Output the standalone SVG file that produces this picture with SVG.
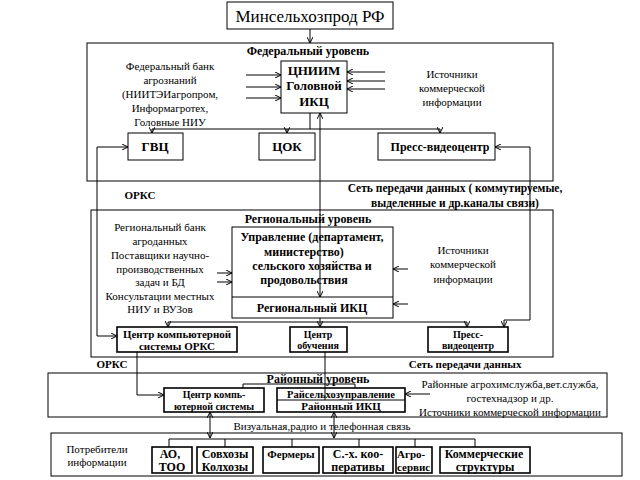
<svg xmlns="http://www.w3.org/2000/svg" width="640" height="480" viewBox="0 0 640 480" font-family="'Liberation Serif', 'DejaVu Serif', 'Times New Roman', serif">
<style>
text{font-family:'Liberation Serif','DejaVu Serif','Times New Roman',serif;fill:#000}
.b{font-weight:bold}
.n{font-size:11px}
.box{fill:#fff;stroke:#000;stroke-width:1}
.box2{fill:#fff;stroke:#000;stroke-width:1.6}
.frame{fill:none;stroke:#000;stroke-width:1}
.c{fill:none;stroke:#000;stroke-width:1}
</style>
<defs>
<marker id="a" viewBox="0 0 6 6" refX="6" refY="3" markerWidth="6" markerHeight="6" markerUnits="userSpaceOnUse" orient="auto-start-reverse">
<path d="M0,0 L6,3 L0,6" fill="none" stroke="#000" stroke-width="1"/>
</marker>
</defs>
<rect width="640" height="480" fill="#fff"/>

<g id="frames">
<rect class="frame" x="87" y="43" width="466" height="138"/>
<rect class="frame" x="91" y="210" width="462" height="147"/>
<rect class="frame" x="48" y="373" width="559" height="44"/>
<rect class="frame" x="51" y="433" width="571" height="43"/>
</g>

<g id="labels">
<text class="b" x="308" y="55" font-size="12" text-anchor="middle">Федеральный уровень</text>
<text class="n" text-anchor="middle"><tspan x="170" y="70">Федеральный банк</tspan><tspan x="170" y="84">агрознаний</tspan><tspan x="170" y="98">(НИИТЭИагропром,</tspan><tspan x="170" y="112">Информагротех,</tspan><tspan x="170" y="126">Головные НИУ</tspan></text>
<text class="n" text-anchor="middle"><tspan x="452" y="78">Источники</tspan><tspan x="452" y="92">коммерческой</tspan><tspan x="452" y="106">информации</tspan></text>
<text class="b" x="140" y="199" font-size="11" text-anchor="middle">ОРКС</text>
<text class="b" font-size="11.5" text-anchor="middle"><tspan x="455" y="192">Сеть передачи данных ( коммутируемые,</tspan><tspan x="455" y="207">выделенные и др.каналы связи)</tspan></text>
<text class="b" x="308" y="223" font-size="12" text-anchor="middle">Региональный уровень</text>
<text class="n" text-anchor="middle"><tspan x="160" y="231">Региональный банк</tspan><tspan x="160" y="245">агроданных</tspan><tspan x="160" y="259">Поставщики научно-</tspan><tspan x="160" y="273">производственных</tspan><tspan x="160" y="286">задач и БД</tspan><tspan x="160" y="300">Консультации местных</tspan><tspan x="160" y="313">НИУ и ВУЗов</tspan></text>
<text class="n" text-anchor="middle"><tspan x="463" y="254">Источники</tspan><tspan x="463" y="268">коммерческой</tspan><tspan x="463" y="283">информации</tspan></text>
<text class="b" x="112" y="368" font-size="11" text-anchor="middle">ОРКС</text>
<text class="b" x="465" y="368" font-size="11" text-anchor="middle">Сеть передачи данных</text>
<text class="b" x="318" y="383" font-size="12" text-anchor="middle">Районный уровень</text>
<text class="n" text-anchor="middle"><tspan x="510" y="388">Районные агрохимслужба,вет.служба,</tspan><tspan x="510" y="402">гостехнадзор и др.</tspan><tspan x="510" y="416">Источники коммерческой информации</tspan></text>
<text class="n" x="322" y="430" text-anchor="middle">Визуальная,радио и телефонная связь</text>
<text class="n" text-anchor="middle"><tspan x="97" y="453">Потребители</tspan><tspan x="97" y="466">информации</tspan></text>
</g>

<g id="n-minselhoz">
<rect class="box" x="227" y="2" width="166" height="27"/>
<text x="310" y="22" font-size="17" text-anchor="middle">Минсельхозпрод РФ</text>
</g>
<g id="n-cniim">
<rect class="box" x="281" y="61" width="66" height="52"/>
<text class="b" font-size="13" text-anchor="middle"><tspan x="314" y="75">ЦНИИМ</tspan><tspan x="314" y="90">Головной</tspan><tspan x="314" y="106">ИКЦ</tspan></text>
</g>
<g id="n-gvc">
<rect class="box" x="128" y="133" width="55" height="27"/>
<text class="b" x="155" y="151" font-size="13" text-anchor="middle">ГВЦ</text>
</g>
<g id="n-cok">
<rect class="box" x="259" y="133" width="56" height="27"/>
<text class="b" x="287" y="151" font-size="13" text-anchor="middle">ЦОК</text>
</g>
<g id="n-press-fed">
<rect class="box" x="378" y="133" width="117" height="27"/>
<text class="b" x="440" y="151" font-size="12" text-anchor="middle">Пресс-видеоцентр</text>
</g>
<g id="n-upravlenie">
<rect class="box" x="232" y="227" width="161" height="91"/>
<line class="c" x1="232" y1="297" x2="393" y2="297"/>
<text class="b" font-size="12" text-anchor="middle"><tspan x="312" y="241">Управление (департамент,</tspan><tspan x="304" y="256">министерство)</tspan><tspan x="312" y="270">сельского хозяйства и</tspan><tspan x="304" y="284">продовольствия</tspan></text>
<text class="b" x="312" y="312" font-size="12" text-anchor="middle">Региональный ИКЦ</text>
</g>
<g id="n-cks-orks">
<rect class="box2" x="117" y="327" width="120" height="25"/>
<text class="b" font-size="11" text-anchor="middle"><tspan x="177" y="338">Центр компьютерной</tspan><tspan x="177" y="350">системы ОРКС</tspan></text>
</g>
<g id="n-obuchenie">
<rect class="box2" x="290" y="327" width="57" height="25"/>
<text class="b" font-size="10" text-anchor="middle"><tspan x="318" y="338">Центр</tspan><tspan x="318" y="349">обучения</tspan></text>
</g>
<g id="n-press-reg">
<rect class="box2" x="428" y="327" width="80" height="25"/>
<text class="b" font-size="10" text-anchor="middle"><tspan x="468" y="338">Пресс-</tspan><tspan x="468" y="349">видеоцентр</tspan></text>
</g>
<g id="n-cks-rayon">
<rect class="box2" x="164" y="388" width="100" height="24"/>
<text class="b" font-size="10" text-anchor="middle"><tspan x="214" y="398">Центр компь-</tspan><tspan x="214" y="410">ютерной системы</tspan></text>
</g>
<g id="n-raysel">
<rect class="box2" x="277" y="388" width="128" height="24"/>
<line class="c" x1="277" y1="400" x2="405" y2="400"/>
<text class="b" x="341" y="398" font-size="10.5" text-anchor="middle">Райсельхозуправление</text>
<text class="b" x="341" y="410" font-size="11" text-anchor="middle">Районный ИКЦ</text>
</g>
<g id="n-ao">
<rect class="box2" x="152" y="447" width="40" height="26"/>
<text class="b" font-size="12" text-anchor="middle"><tspan x="170" y="458">АО,</tspan><tspan x="172" y="471">ТОО</tspan></text>
</g>
<g id="n-sovhozy">
<rect class="box2" x="197" y="447" width="56" height="26"/>
<text class="b" font-size="12" text-anchor="middle"><tspan x="225" y="458">Совхозы</tspan><tspan x="225" y="471">Колхозы</tspan></text>
</g>
<g id="n-fermery">
<rect class="box2" x="263" y="447" width="56" height="26"/>
<text class="b" x="291" y="458" font-size="11" text-anchor="middle">Фермеры</text>
</g>
<g id="n-koop">
<rect class="box2" x="323" y="447" width="70" height="26"/>
<text class="b" font-size="12" text-anchor="middle"><tspan x="358" y="458">С.-х. коо-</tspan><tspan x="358" y="471">перативы</tspan></text>
</g>
<g id="n-agro">
<rect class="box2" x="396" y="447" width="36" height="26"/>
<text class="b" font-size="11"><tspan x="397" y="458">Агро-</tspan><tspan x="397" y="471">сервис</tspan></text>
</g>
<g id="n-komm">
<rect class="box2" x="440" y="447" width="90" height="26"/>
<text class="b" font-size="12" text-anchor="middle"><tspan x="484" y="458">Коммерческие</tspan><tspan x="485" y="471">структуры</tspan></text>
</g>

<g id="connectors">
<line class="c" x1="310" y1="29" x2="310" y2="43" marker-end="url(#a)"/>
<line class="c" x1="246" y1="75" x2="281" y2="75" marker-end="url(#a)"/>
<line class="c" x1="246" y1="87" x2="281" y2="87" marker-end="url(#a)"/>
<line class="c" x1="246" y1="98" x2="281" y2="98" marker-end="url(#a)"/>
<line class="c" x1="385" y1="72" x2="347" y2="72" marker-end="url(#a)"/>
<line class="c" x1="385" y1="81" x2="347" y2="81" marker-end="url(#a)"/>
<line class="c" x1="385" y1="89" x2="347" y2="89" marker-end="url(#a)"/>
<polyline class="c" points="310,113 310,129"/>
<line class="c" x1="152" y1="129" x2="440" y2="129"/>
<line class="c" x1="152" y1="129" x2="152" y2="133" marker-end="url(#a)"/>
<line class="c" x1="287" y1="129" x2="287" y2="133" marker-end="url(#a)"/>
<line class="c" x1="440" y1="129" x2="440" y2="133" marker-end="url(#a)"/>
<line class="c" x1="320" y1="113" x2="320" y2="297" marker-start="url(#a)" marker-end="url(#a)"/>
<polyline class="c" points="128,147 97,147 97,336 117,336" marker-start="url(#a)" marker-end="url(#a)"/>
<polyline class="c" points="495,147 530,147 530,320 504,320 504,327" marker-start="url(#a)" marker-end="url(#a)"/>
<line class="c" x1="217" y1="273" x2="232" y2="273" marker-end="url(#a)"/>
<line class="c" x1="217" y1="282" x2="232" y2="282" marker-end="url(#a)"/>
<line class="c" x1="408" y1="269" x2="393" y2="269" marker-end="url(#a)"/>
<line class="c" x1="408" y1="304" x2="393" y2="304" marker-end="url(#a)"/>
<line class="c" x1="320" y1="318" x2="320" y2="327" marker-end="url(#a)"/>
<line class="c" x1="168" y1="322" x2="467" y2="322"/>
<line class="c" x1="168" y1="322" x2="168" y2="327" marker-end="url(#a)"/>
<line class="c" x1="467" y1="322" x2="467" y2="327" marker-end="url(#a)"/>
<polyline class="c" points="137,352 137,395 164,395" marker-end="url(#a)"/>
<line class="c" x1="325" y1="352" x2="325" y2="400"/>
<polyline class="c" points="243,388 243,384 355,384 355,388"/>
<line class="c" x1="430" y1="394" x2="405" y2="394" marker-end="url(#a)"/>
<line class="c" x1="210" y1="412" x2="210" y2="438" marker-start="url(#a)" marker-end="url(#a)"/>
<line class="c" x1="334" y1="412" x2="334" y2="438" marker-start="url(#a)" marker-end="url(#a)"/>
<line class="c" x1="169" y1="439" x2="475" y2="439"/>
<line class="c" x1="169" y1="439" x2="169" y2="447"/>
<line class="c" x1="225" y1="439" x2="225" y2="447"/>
<line class="c" x1="292" y1="439" x2="292" y2="447"/>
<line class="c" x1="359" y1="439" x2="359" y2="447"/>
<line class="c" x1="415" y1="439" x2="415" y2="447"/>
<line class="c" x1="475" y1="439" x2="475" y2="447"/>
</g>
</svg>
